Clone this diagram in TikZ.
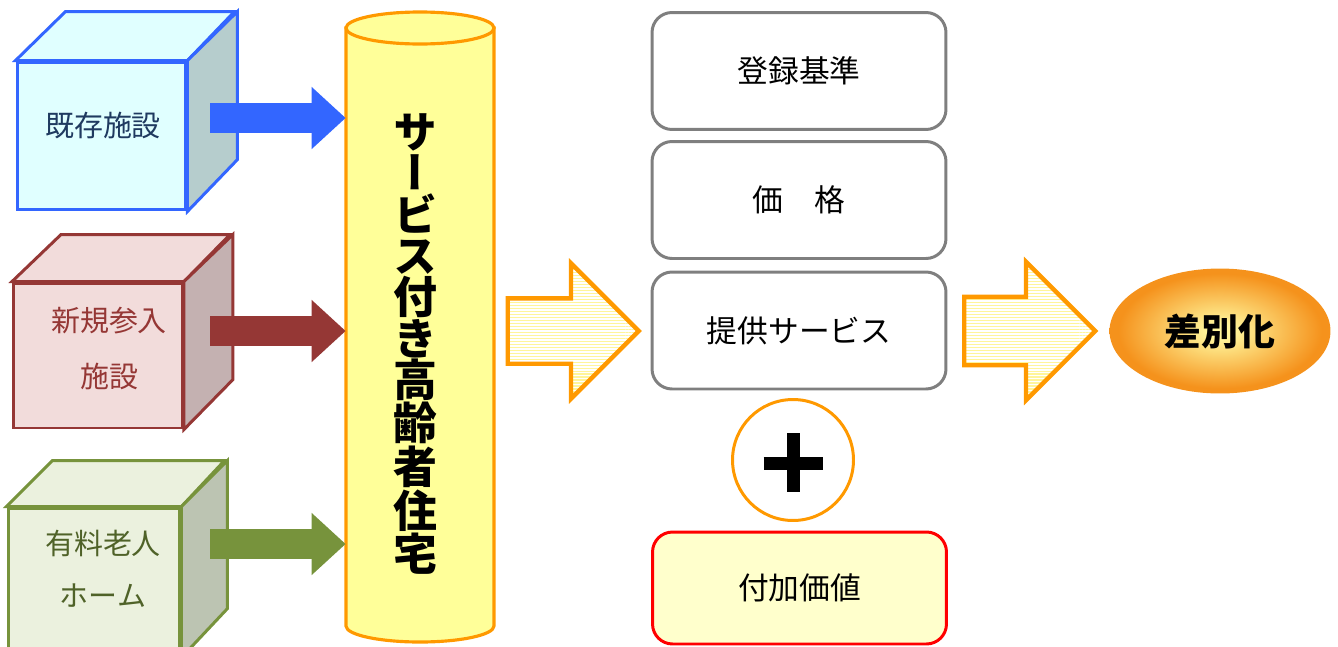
\documentclass[tikz,border=0pt]{standalone}
\usepackage{fontspec}
\setmainfont{Noto Sans CJK JP}
\newfontfamily\tate[RawFeature=+vert]{Noto Sans CJK JP}
\usepackage{tikz}
\usetikzlibrary{positioning}
\usetikzlibrary{arrows.meta}
\usetikzlibrary{shapes.arrows}
\usetikzlibrary{shapes.geometric}
\usetikzlibrary{patterns.meta}

\definecolor{azul}{HTML}{3366FF}
\definecolor{cian}{HTML}{E0FFFF}
\definecolor{cianosc}{HTML}{B6CDCD}
\definecolor{rojo}{HTML}{953735}
\definecolor{rosa}{HTML}{F2DCDB}
\definecolor{rosaosc}{HTML}{C4B1B1}
\definecolor{verde}{HTML}{77933C}
\definecolor{verdecl}{HTML}{EBF1DE}
\definecolor{verdeosc}{HTML}{BCC4B2}
\definecolor{textazul}{HTML}{1F3A60}
\definecolor{textverde}{HTML}{4F6228}
\definecolor{naranja}{HTML}{FF9900}
\definecolor{amarillo}{HTML}{FFFF99}
\definecolor{gris}{HTML}{7F7F7F}
\definecolor{crema}{HTML}{FFFFCC}
\definecolor{rojovivo}{HTML}{FF0000}
\definecolor{rayas}{HTML}{FFF59A}
\definecolor{centro}{HTML}{FFF59A}
\definecolor{borde}{HTML}{F5921C}

\pgfdeclareradialshading{brillo}{\pgfpoint{0bp}{0bp}}{color(0bp)=(centro); color(3bp)=(centro); color(23bp)=(borde); color(50bp)=(borde)}

\begin{document}
\begin{tikzpicture}[x=0.02cm, y=-0.02cm,
    cara/.style={draw, line width=1.7pt, minimum width=3.38cm, minimum height=2.96cm, inner sep=0pt},
    flecha/.style={-{Triangle[length=0.68cm, width=1.2cm]}, line width=0.6cm},
    caja/.style={draw=gris, line width=1.7pt, rounded corners=0.4cm, minimum width=5.88cm, minimum height=2.34cm, font=\fontsize{17.5}{20}\selectfont},
    hueca/.style={single arrow, draw=naranja, line width=2.5pt, inner xsep=0pt, inner ysep=0.64cm,
        single arrow head extend=0.7cm, minimum height=2.62cm, anchor=tail,
        pattern={Lines[angle=0, distance=1.7pt, line width=0.8pt]}, pattern color=rayas}]
  \useasboundingbox (0,0) rectangle (1338,646);

  % Cubos
  \node[cara, draw=azul, fill=cian] (existente) at (101.5,136) {};
  \draw[azul, line width=1.7pt, fill=cian] (existente.north west) -- ++(50,-49) -- ++(169,0) -- (existente.north east) -- cycle;
  \draw[azul, line width=1.7pt, fill=cianosc] (existente.north east) -- ++(50,-49) -- ++(0,148) -- (existente.south east) -- cycle;
  \node[text=textazul, font=\fontsize{16.5}{20}\selectfont] (txtexistente) at (103,125) {既存施設};

  \node[cara, draw=rojo, fill=rosa, minimum height=2.9cm] (nuevo) at (98,355.5) {};
  \draw[rojo, line width=1.7pt, fill=rosa] (nuevo.north west) -- ++(49,-47) -- ++(169,0) -- (nuevo.north east) -- cycle;
  \draw[rojo, line width=1.7pt, fill=rosaosc] (nuevo.north east) -- ++(49,-47) -- ++(0,145) -- (nuevo.south east) -- cycle;
  \node[text=rojo, align=center, font=\fontsize{16.5}{32}\selectfont] (txtnuevo) at (109,348.5) {新規参入\\施設};

  \node[cara, draw=verde, fill=verdecl, minimum width=3.44cm] (pago) at (94,582) {};
  \draw[verde, line width=1.7pt, fill=verdecl] (pago.north west) -- ++(46,-46) -- ++(172,0) -- (pago.north east) -- cycle;
  \draw[verde, line width=1.7pt, fill=verdeosc] (pago.north east) -- ++(46,-46) -- ++(0,148) -- (pago.south east) -- cycle;
  \node[text=textverde, align=center, font=\fontsize{16.5}{29.5}\selectfont] (txtpago) at (103,569) {有料老人\\ホーム};

  % Cilindro
  \draw[naranja, line width=1.8pt, fill=amarillo] (346,28) -- (346,626) arc[start angle=180, end angle=360, x radius=1.48cm, y radius=0.32cm] -- (494,28) -- cycle;
  \draw[naranja, line width=1.8pt, fill=amarillo] (420,28) ellipse[x radius=1.48cm, y radius=0.32cm];
  \node[minimum width=2.96cm, minimum height=11.96cm, inner sep=0pt] (cilindro) at (420,327) {};
  \node[align=center, font=\tate\bfseries\fontsize{25}{23.5}\selectfont] (jutaku) at (415,344)
    {サ\\ー\\ビ\\ス\\付\\き\\高\\齢\\者\\住\\宅};

  % Flechas
  \coordinate (s1) at (210,118);
  \coordinate (s2) at (210,331);
  \coordinate (s3) at (210,544);
  \draw[flecha, azul] (s1) -- (s1 -| cilindro.west);
  \draw[flecha, rojo] (s2) -- (s2 -| cilindro.west);
  \draw[flecha, verde] (s3) -- (s3 -| cilindro.west);

  % Cajas
  \node[caja] (registro) at (799,71) {登録基準};
  \node[caja] (precio) at (799,200) {価　格};
  \node[caja] (servicio) at (799,330.5) {提供サービス};
  \node[caja, draw=rojovivo, fill=crema, minimum height=2.24cm] (valor) at (799.5,588) {付加価値};

  \node[circle, draw=naranja, line width=1.7pt, minimum size=2.42cm] (mas) at (793,460) {};
  \draw[line width=0.26cm] ([xshift=-0.59cm, yshift=-0.06cm]mas.center) -- ([xshift=0.59cm, yshift=-0.06cm]mas.center);
  \draw[line width=0.26cm] ([yshift=0.54cm]mas.center) -- ([yshift=-0.64cm]mas.center);

  % Flechas huecas
  \node[hueca] (hueca1) at (507,331) {};
  \node[hueca] (hueca2) at (962,331) {};

  % Resultado
  \node[ellipse, shading=brillo, minimum width=4.42cm, minimum height=2.5cm,
    font=\bfseries\fontsize{21}{24}\selectfont] (diferencia) at (1220,331) {差別化};
\end{tikzpicture}
\end{document}
